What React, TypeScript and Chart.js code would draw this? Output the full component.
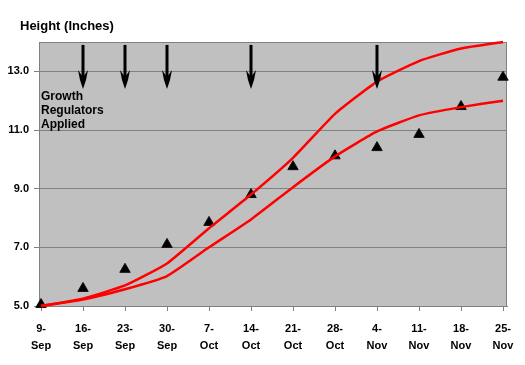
import React, { useEffect, useRef } from "react";
import { Chart, registerables } from "chart.js";

Chart.register(...registerables);

const categories = ["9-Sep", "16-Sep", "23-Sep", "30-Sep", "7-Oct", "14-Oct", "21-Oct", "28-Oct", "4-Nov", "11-Nov", "18-Nov", "25-Nov"];
const measuredHeight = [5.05, 5.6, 6.25, 7.1, 7.85, 8.8, 9.75, 10.12, 10.4, 10.85, 11.8, 12.8];
const upperCurve = [5.0, 5.25, 5.7, 6.45, 7.65, 8.8, 10.05, 11.55, 12.65, 13.35, 13.78, 14.0];
const lowerCurve = [5.0, 5.22, 5.57, 6.02, 7.0, 7.95, 9.05, 10.1, 10.95, 11.5, 11.78, 12.0];
const yTicks = [5, 7, 9, 11, 13];
const arrowIndices = [1, 2, 3, 5, 8];
const arrowTopValue = 13.9;
const arrowTipValue = 12.4;
const annotationLines = ["Growth", "Regulators", "Applied"];
const annotationValue = 12.02;
const titleText = "Height (Inches)";

const FONT = "'Liberation Sans', Arial, sans-serif";

const decorPlugin = {
  id: "decor",
  beforeDraw(chart: any) {
    const { ctx, chartArea: a } = chart;
    ctx.save();
    ctx.fillStyle = "#ffffff";
    ctx.fillRect(0, 0, chart.width, chart.height);
    ctx.fillStyle = "#C0C0C0";
    ctx.fillRect(a.left, a.top, a.right - a.left, a.bottom - a.top);
    ctx.fillStyle = "#000";
    ctx.font = `bold 13px ${FONT}`;
    ctx.textBaseline = "alphabetic";
    ctx.textAlign = "left";
    ctx.fillText(titleText, 20, 30);
    ctx.restore();
  },
  beforeDatasetsDraw(chart: any) {
    const { ctx, chartArea: a } = chart;
    ctx.save();
    ctx.strokeStyle = "#808080";
    ctx.lineWidth = 1;
    ctx.strokeRect(a.left + 0.5, a.top + 0.5, a.right - a.left - 1, a.bottom - a.top);
    const ys = chart.scales.y;
    ctx.fillStyle = "#000";
    ctx.font = `bold 12px ${FONT}`;
    ctx.textAlign = "left";
    ctx.textBaseline = "alphabetic";
    const y0 = ys.getPixelForValue(annotationValue);
    annotationLines.forEach((t, i) => ctx.fillText(t, a.left + 2, y0 + i * 14));
    ctx.restore();
  },
  afterDatasetsDraw(chart: any) {
    const { ctx } = chart;
    const xs = chart.scales.x;
    const ys = chart.scales.y;
    ctx.save();
    ctx.fillStyle = "#000";
    ctx.strokeStyle = "#000";
    arrowIndices.forEach((idx) => {
      const x = Math.round(xs.getPixelForValue(idx));
      const top = ys.getPixelForValue(arrowTopValue);
      const tip = ys.getPixelForValue(arrowTipValue);
      ctx.lineWidth = 3;
      ctx.beginPath();
      ctx.moveTo(x, top);
      ctx.lineTo(x, tip - 6);
      ctx.stroke();
      ctx.beginPath();
      ctx.moveTo(x - 1.5, tip - 14);
      ctx.lineTo(x - 5, tip - 19);
      ctx.lineTo(x - 3, tip - 9);
      ctx.lineTo(x, tip);
      ctx.lineTo(x + 3, tip - 9);
      ctx.lineTo(x + 5, tip - 19);
      ctx.lineTo(x + 1.5, tip - 14);
      ctx.closePath();
      ctx.fill();
    });
    ctx.restore();
  },
};

export default function App() {
  const ref = useRef<HTMLCanvasElement>(null);
  useEffect(() => {
    document.body.style.margin = "0";
    const toXY = (arr: number[]) => arr.map((y, i) => ({ x: i, y }));
    const chart = new Chart(ref.current as HTMLCanvasElement, {
      type: "line",
      data: {
        datasets: [
          {
            data: toXY(upperCurve),
            borderColor: "#FF0000",
            borderWidth: 2.5,
            pointRadius: 0,
            tension: 0.15,
            clip: false as any,
          },
          {
            data: toXY(lowerCurve),
            borderColor: "#FF0000",
            borderWidth: 2.5,
            pointRadius: 0,
            tension: 0.15,
            clip: false as any,
          },
          {
            data: toXY(measuredHeight),
            showLine: false,
            pointStyle: "triangle",
            pointRadius: 6,
            backgroundColor: "#000",
            borderColor: "#111",
            borderWidth: 1,
            clip: false as any,
          },
        ],
      },
      options: {
        responsive: false,
        animation: false,
        layout: { padding: { top: 42, right: 18, left: 0, bottom: 0 } },
        plugins: {
          legend: { display: false },
          tooltip: { enabled: false },
          title: { display: false },
        },
        font: { family: FONT } as any,
        scales: {
          x: {
            type: "linear",
            min: -0.048,
            max: 11.095,
            afterFit: (s: any) => {
              s.height = 59;
            },
            afterBuildTicks: (s: any) => {
              s.ticks = categories.map((_, i) => ({ value: i }));
            },
            grid: {
              drawOnChartArea: false,
              drawTicks: true,
              tickLength: 5,
              color: "#808080",
            },
            border: { display: true, color: "#808080" },
            ticks: {
              autoSkip: false,
              maxRotation: 0,
              padding: 10,
              color: "#000",
              font: { family: FONT, size: 11, weight: "bold", lineHeight: 1.5 },
              callback: (v: any) => {
                const lbl = categories[Math.round(v)];
                if (!lbl) return "";
                const [d, m] = lbl.split("-");
                return [d + "-", m];
              },
            },
          },
          y: {
            min: 5,
            max: 14,
            afterFit: (s: any) => {
              s.width = 39;
            },
            afterBuildTicks: (s: any) => {
              s.ticks = yTicks.map((v) => ({ value: v }));
            },
            grid: {
              color: "#808080",
              lineWidth: 1,
              tickLength: 5,
            },
            border: { display: true, color: "#808080" },
            ticks: {
              padding: 5,
              color: "#000",
              font: { family: FONT, size: 11, weight: "bold" },
              callback: (v: any) => Number(v).toFixed(1),
            },
          },
        },
      },
      plugins: [decorPlugin],
    });
    return () => chart.destroy();
  }, []);
  return (
    <div style={{ width: 525, height: 365 }}>
      <canvas ref={ref} width={525} height={365} style={{ display: "block" }} />
    </div>
  );
}
